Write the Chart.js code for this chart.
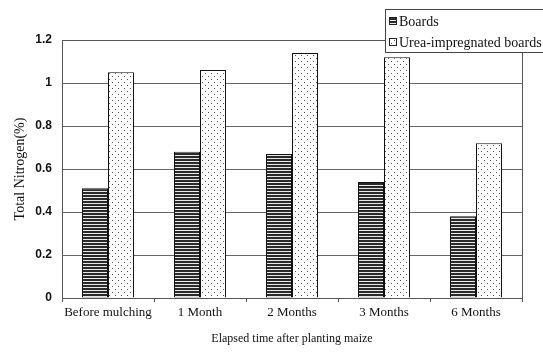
<!DOCTYPE html>
<html>
<head>
<meta charset="utf-8">
<script src="https://cdn.jsdelivr.net/npm/chart.js@4.4.0/dist/chart.umd.min.js"></script>
<style>
  html, body { margin: 0; padding: 0; background: #fff; }
  #wrap { width: 543px; height: 352px; }
</style>
</head>
<body>
<div id="wrap"><canvas id="chart" width="543" height="352"></canvas></div>
<script>
const categories = ["Before mulching", "1 Month", "2 Months", "3 Months", "6 Months"];
const boards = [0.51, 0.68, 0.67, 0.54, 0.38];
const ureaBoards = [1.05, 1.06, 1.14, 1.12, 0.72];
const seriesNames = ["Boards", "Urea-impregnated boards"];

function stripePattern() {
  const c = document.createElement("canvas");
  c.width = 4; c.height = 3;
  const g = c.getContext("2d");
  g.fillStyle = "#2a2a2a";
  g.fillRect(0, 0, 4, 3);
  g.fillStyle = "#e8e8e8";
  g.fillRect(0, 2, 4, 1);
  return g.createPattern(c, "repeat");
}

function dotPattern() {
  const c = document.createElement("canvas");
  c.width = 6; c.height = 6;
  const g = c.getContext("2d");
  g.fillStyle = "#fff";
  g.fillRect(0, 0, 6, 6);
  g.fillStyle = "#555";
  g.fillRect(1, 1, 1, 1);
  g.fillRect(4, 4, 1, 1);
  return g.createPattern(c, "repeat");
}

const fills = [stripePattern(), dotPattern()];

// border around plot area + legend box in the top right corner
const frame = {
  id: "frame",
  afterDatasetsDraw(chart) {
    const { ctx, chartArea: a } = chart;
    ctx.save();
    ctx.strokeStyle = "#555";
    ctx.lineWidth = 1;
    ctx.strokeRect(a.left + 0.5, a.top + 0.5, a.right - a.left, a.bottom - a.top);

    const x = 385, y = 9, w = 170, h = 43;
    ctx.fillStyle = "#fff";
    ctx.fillRect(x, y, w, h);
    ctx.strokeStyle = "#444";
    ctx.strokeRect(x + 0.5, y + 0.5, w, h);
    ctx.font = "14px 'Liberation Serif'";
    ctx.textBaseline = "middle";
    seriesNames.forEach((name, i) => {
      const cy = y + 12 + i * 21;
      ctx.fillStyle = fills[i];
      ctx.fillRect(389, cy - 4, 8, 8);
      ctx.strokeStyle = "#222";
      ctx.strokeRect(389.5, cy - 3.5, 7, 7);
      ctx.fillStyle = "#111";
      ctx.fillText(name, 399, cy + 1);
    });
    ctx.restore();
  }
};

new Chart(document.getElementById("chart"), {
  type: "bar",
  data: {
    labels: categories,
    datasets: [
      { label: seriesNames[0], data: boards, backgroundColor: fills[0], borderColor: "#111", borderWidth: 1 },
      { label: seriesNames[1], data: ureaBoards, backgroundColor: fills[1], borderColor: "#111", borderWidth: 1 }
    ]
  },
  options: {
    responsive: false,
    animation: false,
    layout: { padding: { left: 0, right: 21, top: 40, bottom: 0 } },
    datasets: { bar: { categoryPercentage: 0.565, barPercentage: 1.0 } },
    plugins: { legend: { display: false }, tooltip: { enabled: false } },
    scales: {
      x: {
        afterFit(scale) { scale.height = 54; },
        grid: { display: true, drawOnChartArea: false, color: "#555", tickLength: 4 },
        border: { color: "#555" },
        ticks: { color: "#111", padding: 3, maxRotation: 0, minRotation: 0, autoSkip: false,
                 font: { family: "Liberation Serif", size: 13 } },
        title: { display: true, text: "Elapsed time after planting maize", color: "#111",
                 font: { family: "Liberation Serif", size: 12 }, padding: { top: 4, bottom: 6 } }
      },
      y: {
        min: 0, max: 1.2,
        afterFit(scale) { scale.width = 62; },
        ticks: { stepSize: 0.2, color: "#111", padding: 10,
                 font: { family: "Liberation Sans", size: 12, weight: "bold" },
                 callback: (v) => String(Math.round(v * 10) / 10) },
        grid: { color: "#666", drawTicks: false },
        border: { color: "#555" },
        title: { display: true, text: "Total Nitrogen(%)", color: "#111",
                 font: { family: "Liberation Serif", size: 14 }, padding: { top: 12, bottom: 4 } }
      }
    }
  },
  plugins: [frame]
});
</script>
</body>
</html>
